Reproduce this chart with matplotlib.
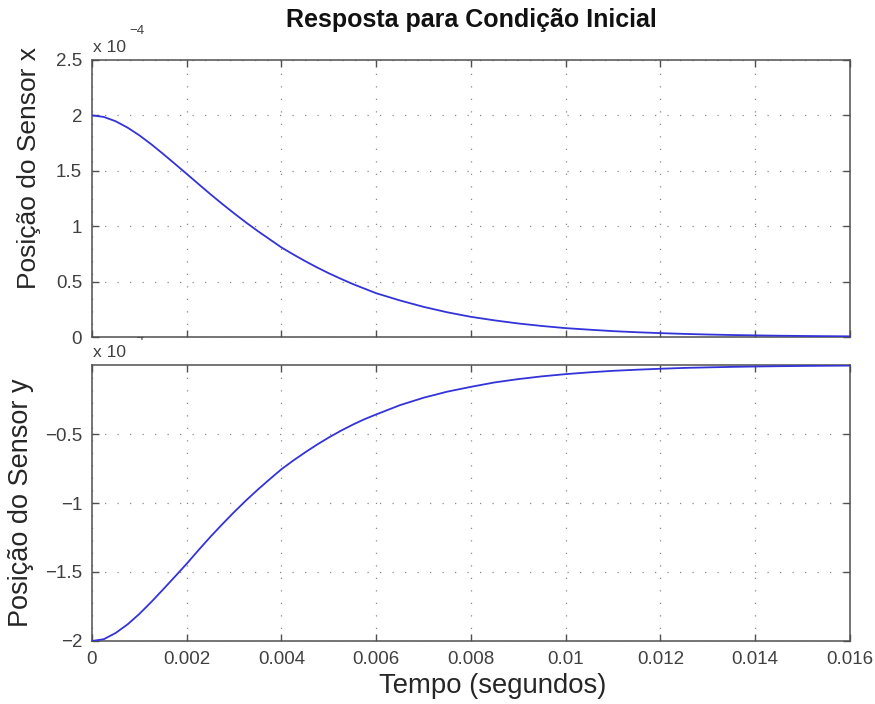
import matplotlib
matplotlib.use("Agg")
import matplotlib.pyplot as plt
import numpy as np

plt.rcParams['font.family'] = ['Liberation Sans', 'DejaVu Sans']

# Time samples (s)
tempo = [0.0, 0.00025, 0.0005, 0.00075, 0.001, 0.00125, 0.0015, 0.00175,
         0.002, 0.00225, 0.0025, 0.00275, 0.003, 0.00325, 0.0035, 0.00375,
         0.004, 0.00425, 0.0045, 0.00475, 0.005, 0.00525, 0.0055, 0.00575,
         0.006, 0.0065, 0.007, 0.0075, 0.008,
         0.0085, 0.009, 0.0095, 0.01, 0.0105, 0.011, 0.0115, 0.012,
         0.0125, 0.013, 0.0135, 0.014, 0.0145, 0.015, 0.0155, 0.016]

# Sensor x position (units of 1e-4)
sensor_x = [2.000, 1.986, 1.947, 1.890, 1.820, 1.740, 1.653, 1.563,
            1.472, 1.380, 1.289, 1.201, 1.116, 1.034, 0.956, 0.882,
            0.808, 0.745, 0.685, 0.628, 0.575, 0.526, 0.479, 0.437,
            0.395, 0.330, 0.272, 0.223, 0.182,
            0.150, 0.122, 0.0995, 0.080, 0.066, 0.053, 0.043, 0.035,
            0.028, 0.0225, 0.018, 0.0146, 0.0117, 0.0094, 0.0075, 0.006]

# Sensor y position (units of 1e-4)
sensor_y = [-2.000, -1.987, -1.942, -1.880, -1.804, -1.718, -1.627, -1.534,
            -1.440, -1.341, -1.245, -1.154, -1.066, -0.982, -0.903, -0.828,
            -0.755, -0.692, -0.633, -0.577, -0.525, -0.477, -0.433, -0.393,
            -0.358, -0.291, -0.237, -0.193, -0.158,
            -0.126, -0.102, -0.082, -0.066, -0.053, -0.042, -0.034, -0.027,
            -0.021, -0.017, -0.0135, -0.0107, -0.0085, -0.0067, -0.0053, -0.0042]

xticks = [0, 0.002, 0.004, 0.006, 0.008, 0.01, 0.012, 0.014, 0.016]
xticklabels = ['0', '0.002', '0.004', '0.006', '0.008', '0.01', '0.012', '0.014', '0.016']
yticks_top = [0, 0.5, 1, 1.5, 2, 2.5]
yticklabels_top = ['0', '0.5', '1', '1.5', '2', '2.5']
yticks_bot = [-2, -1.5, -1, -0.5]
yticklabels_bot = ['\u22122', '\u22121.5', '\u22121', '\u22120.5']

title = 'Resposta para Condição Inicial'
ylabel_top = 'Posição do Sensor x'
ylabel_bot = 'Posição do Sensor y'
xlabel = 'Tempo (segundos)'

line_color = (0.2, 0.2, 0.85)
spine_color = '#505050'
tick_color = '#404040'
grid_color = '#8a8a8a'

fig = plt.figure(figsize=(8.75, 7.04), dpi=100)
ax1 = fig.add_axes([0.1051, 0.5213, 0.8663, 0.3935])
ax2 = fig.add_axes([0.1051, 0.0895, 0.8663, 0.3920])
ax1.set_zorder(3)
ax2.set_zorder(1)

t = np.array(tempo)
ax1.plot(t, np.array(sensor_x), color=line_color, lw=1.3, zorder=3)
ax2.plot(t, np.array(sensor_y), color=line_color, lw=1.3, zorder=3)

for ax in (ax1, ax2):
    ax.set_xlim(0, 0.016)
    ax.set_xticks(xticks)
    ax.grid(True, color=grid_color, linestyle=(0, (1, 9)), linewidth=0.9)
    ax.tick_params(direction='in', length=5, width=1.0, top=True, right=True,
                   colors=spine_color, labelcolor=tick_color, labelsize=13.5, pad=7)
    for s in ax.spines.values():
        s.set_color(spine_color)
        s.set_linewidth(1.1)

ax1.set_ylim(0, 2.5)
ax1.set_yticks(yticks_top)
ax1.set_yticklabels(yticklabels_top)
ax1.set_xticklabels([])

ax2.set_ylim(-2, 0)
ax2.set_yticks(yticks_bot)
ax2.set_yticklabels(yticklabels_bot)
ax2.set_xticklabels(xticklabels)

ax1.set_ylabel(ylabel_top, fontsize=19, color='#262626')
ax1.yaxis.set_label_coords(-0.067, 0.61)
ax2.set_ylabel(ylabel_bot, fontsize=19.5, color='#262626')
ax2.yaxis.set_label_coords(-0.077, 0.5)
ax2.set_xlabel(xlabel, fontsize=19.8, color='#262626')
ax2.xaxis.set_label_coords(0.528, -0.115)
ax1.set_title(title, fontsize=18, fontweight='bold', color='#111111', pad=24)

# MATLAB-style exponent labels
ax1.text(0.0015, 1.029, 'x 10', transform=ax1.transAxes, fontsize=12.5,
         color=tick_color, ha='left', va='baseline')
ax1.text(0.050, 1.105, '\u22124', transform=ax1.transAxes, fontsize=9.5,
         color=tick_color, ha='left', va='center')
ax2.text(0.0015, 1.029, 'x 10', transform=ax2.transAxes, fontsize=12.5,
         color=tick_color, ha='left', va='baseline', clip_on=False)
ax2.text(0.050, 1.100, '\u22124', transform=ax2.transAxes, fontsize=9.5,
         color=tick_color, ha='left', va='center', clip_on=False)

fig.savefig('out.png', dpi=100)
